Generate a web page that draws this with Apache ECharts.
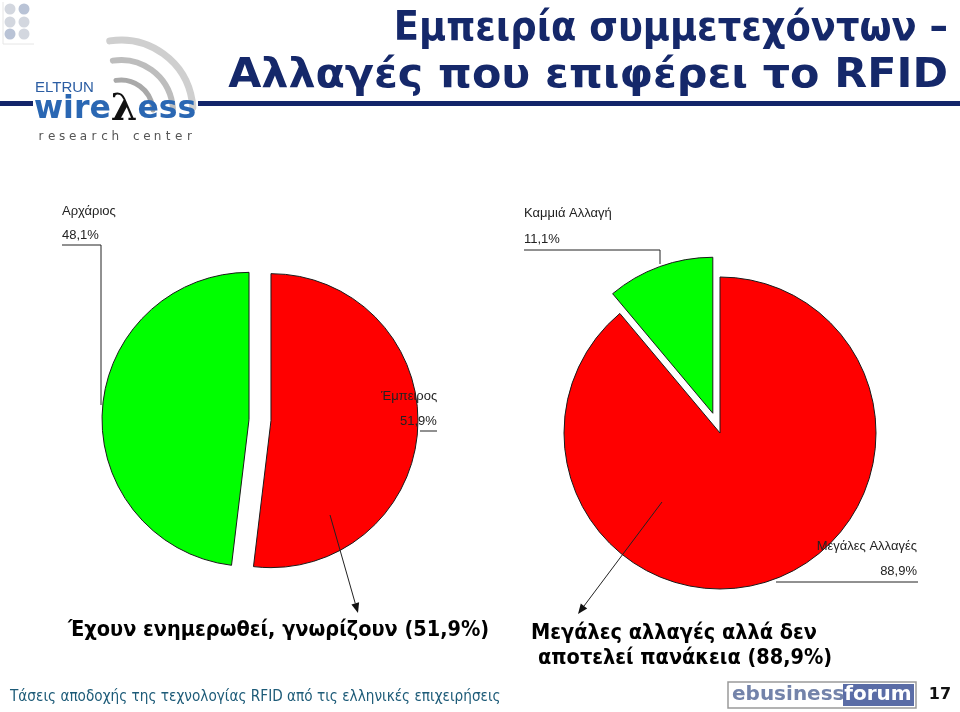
<!DOCTYPE html>
<html><head><meta charset="utf-8">
<script src="https://cdn.jsdelivr.net/npm/echarts@6/dist/echarts.min.js"></script>
<style>html,body{margin:0;padding:0;background:#fff}#c{width:960px;height:712px}</style>
</head><body><div id="c"></div>
<script>
// ---- data ----
const leftNames = ['Έμπειρος', 'Αρχάριος'];
const leftValues = [51.9, 48.1];
const rightNames = ['Μεγάλες Αλλαγές', 'Καμμιά Αλλαγή'];
const rightValues = [88.9, 11.1];
const sliceColors = ['#ff0000', '#00ff00'];
const titleLines = ['Εμπειρία συμμετεχόντων –', 'Αλλαγές που επιφέρει το RFID'];
const captionLeft = ['Έχουν ενημερωθεί, γνωρίζουν (51,9%)'];
const captionRight = ['Μεγάλες αλλαγές αλλά δεν', 'αποτελεί πανάκεια (88,9%)'];
const footerText = 'Τάσεις αποδοχής της τεχνολογίας RFID από τις ελληνικές επιχειρήσεις';
const pageNumber = '17';

const fmt = v => v.toFixed(1).replace('.', ',') + '%';
const chart = echarts.init(document.getElementById('c'), null, {renderer: 'canvas'});

const labelFont = {fontSize: 13, fontFamily: '"Liberation Sans", Arial, sans-serif', fill: '#222'};
const condBold = '"DejaVu Sans Condensed", "DejaVu Sans", sans-serif';

function txt(text, x, y, extra) {
  return {type: 'text', silent: true, z: 100, style: Object.assign({text: text, x: x, y: y, verticalAlign: 'middle'}, labelFont, extra || {})};
}
function poly(points, extra) {
  return {type: 'polyline', silent: true, z: 100, shape: {points: points}, style: Object.assign({stroke: '#222', lineWidth: 1, fill: null}, extra || {})};
}
function arrow(x1, y1, x2, y2) {
  const a = Math.atan2(y2 - y1, x2 - x1), L = 10, W = 4;
  const bx = x2 - L * Math.cos(a), by = y2 - L * Math.sin(a);
  const px = -Math.sin(a) * W, py = Math.cos(a) * W;
  return [
    {type: 'line', silent: true, z: 100, shape: {x1: x1, y1: y1, x2: bx, y2: by}, style: {stroke: '#222', lineWidth: 1}},
    {type: 'polygon', silent: true, z: 100, shape: {points: [[x2, y2], [bx + px, by + py], [bx - px, by - py]]}, style: {fill: '#111'}}
  ];
}

const graphics = [];
// title
graphics.push({type: 'text', silent: true, style: {text: titleLines[0], x: 948, y: 29, align: 'right', verticalAlign: 'middle', fontSize: 41, fontWeight: 'bold', fontFamily: condBold, fill: '#15286a'}});
graphics.push({type: 'text', silent: true, scaleX: 1.16, originX: 948, originY: 76,
  style: {text: titleLines[1], x: 948, y: 76, align: 'right', verticalAlign: 'middle', fontSize: 41, fontWeight: 'bold', fontFamily: condBold, fill: '#15286a'}});
graphics.push({type: 'rect', silent: true, shape: {x: 0, y: 101, width: 33, height: 5}, style: {fill: '#13256a'}});
graphics.push({type: 'rect', silent: true, shape: {x: 198, y: 101, width: 762, height: 5}, style: {fill: '#13256a'}});

// logo dots
[[10, 9], [24, 9], [10, 22], [24, 22], [10, 34], [24, 34]].forEach((p, i) => {
  graphics.push({type: 'circle', silent: true, shape: {cx: p[0], cy: p[1], r: 5.5}, style: {fill: i % 3 === 1 ? '#b9c3d6' : '#d3d7df'}});
});
graphics.push({type: 'line', silent: true, shape: {x1: 3, y1: 2, x2: 3, y2: 44}, style: {stroke: '#e6e6e6', lineWidth: 1}});
graphics.push({type: 'line', silent: true, shape: {x1: 3, y1: 44, x2: 34, y2: 44}, style: {stroke: '#e6e6e6', lineWidth: 1}});
// logo arcs
[[72, '#cfcfcf', 7], [52, '#bdbdbd', 6], [32, '#a9a9a9', 5]].forEach(a => {
  graphics.push({type: 'arc', silent: true, shape: {cx: 121, cy: 112, r: a[0], startAngle: -Math.PI * 0.55, endAngle: -Math.PI * 0.02}, style: {stroke: a[1], lineWidth: a[2], fill: null, lineCap: 'round'}});
});
graphics.push({type: 'text', silent: true, style: {text: 'ELTRUN', x: 35, y: 88, verticalAlign: 'middle', fontSize: 15, fontFamily: '"Liberation Sans", Arial', fill: '#2b5da3'}});
graphics.push({type: 'text', silent: true, style: {
  text: '{a|wire}{b|λ}{a|ess}', x: 34, y: 110, verticalAlign: 'middle',
  rich: {a: {fontSize: 31.5, fontFamily: '"DejaVu Sans", sans-serif', fontWeight: 'bold', fill: '#2a67b3'},
         b: {fontSize: 38, fontFamily: '"DejaVu Serif", serif', fontWeight: 'bold', fill: '#111'}}}});
'research center'.split('').forEach((ch, i) => {
  graphics.push({type: 'text', silent: true, style: {text: ch, x: 41 + i * 10.6, y: 137, align: 'center', verticalAlign: 'middle', fontSize: 12, fontFamily: '"DejaVu Sans", sans-serif', fill: '#555'}});
});

// left pie labels
graphics.push(txt(leftNames[1], 62, 211));
graphics.push(txt(fmt(leftValues[1]), 62, 235));
graphics.push(poly([[62, 245], [101, 245], [101, 405]]));
graphics.push(txt(leftNames[0], 381, 396));
graphics.push(txt(fmt(leftValues[0]), 400, 421));
graphics.push(poly([[420, 431], [437, 431]]));
// right pie labels
graphics.push(txt(rightNames[1], 524, 213));
graphics.push(txt(fmt(rightValues[1]), 524, 239));
graphics.push(poly([[524, 250], [660, 250], [660, 264]]));
graphics.push(txt(rightNames[0], 917, 546, {align: 'right'}));
graphics.push(txt(fmt(rightValues[0]), 917, 571, {align: 'right'}));
graphics.push(poly([[776, 582], [918, 582]]));
// arrows
arrow(330, 515, 358, 613).forEach(g => graphics.push(g));
arrow(662, 502, 578, 614).forEach(g => graphics.push(g));

// captions
const capStyle = {fontSize: 21.5, fontWeight: 'bold', fontFamily: condBold, fill: '#000', verticalAlign: 'middle'};
graphics.push({type: 'text', silent: true, style: Object.assign({text: captionLeft[0], x: 68, y: 630}, capStyle)});
graphics.push({type: 'text', silent: true, style: Object.assign({text: captionRight[0], x: 531, y: 633}, capStyle)});
graphics.push({type: 'text', silent: true, style: Object.assign({text: captionRight[1], x: 538, y: 658}, capStyle)});

// footer
graphics.push({type: 'text', silent: true, style: {text: footerText, x: 10, y: 697, verticalAlign: 'middle', fontSize: 15.2, fontFamily: '"DejaVu Sans Condensed", "DejaVu Sans", sans-serif', fill: '#1d5b78'}});
graphics.push({type: 'rect', silent: true, shape: {x: 728, y: 682, width: 188, height: 26}, style: {fill: '#fff', stroke: '#9a9a9a', lineWidth: 1.5}});
graphics.push({type: 'rect', silent: true, shape: {x: 843, y: 684, width: 71, height: 22}, style: {fill: '#5a6ca6'}});
graphics.push({type: 'text', silent: true, style: {text: 'ebusiness', x: 732, y: 695, verticalAlign: 'middle', fontSize: 20, fontWeight: 'bold', fontFamily: '"DejaVu Sans", sans-serif', fill: '#7383aa'}});
graphics.push({type: 'text', silent: true, style: {text: 'forum', x: 878, y: 695, align: 'center', verticalAlign: 'middle', fontSize: 20, fontWeight: 'bold', fontFamily: '"DejaVu Sans", sans-serif', fill: '#fff'}});
graphics.push({type: 'text', silent: true, style: {text: pageNumber, x: 940, y: 695, align: 'center', verticalAlign: 'middle', fontSize: 16, fontWeight: 'bold', fontFamily: '"DejaVu Sans", sans-serif', fill: '#111'}});

function pieData(names, values, selectedIdx) {
  return names.map((n, i) => ({name: n, value: values[i], selected: selectedIdx.indexOf(i) >= 0, itemStyle: {color: sliceColors[i]}}));
}
const pieCommon = {
  type: 'pie', startAngle: 90, clockwise: true, selectedMode: 'multiple', silent: true,
  label: {show: false}, labelLine: {show: false}, emphasis: {disabled: true},
  itemStyle: {borderColor: '#1a1a1a', borderWidth: 1}, animation: false
};

chart.setOption({
  animation: false,
  backgroundColor: '#fff',
  series: [
    Object.assign({}, pieCommon, {center: [260, 420], radius: 147, selectedOffset: 11, data: pieData(leftNames, leftValues, [0, 1])}),
    Object.assign({}, pieCommon, {center: [720, 433], radius: 156, selectedOffset: 21, data: pieData(rightNames, rightValues, [1])})
  ],
  graphic: graphics
});
</script>
</body></html>
